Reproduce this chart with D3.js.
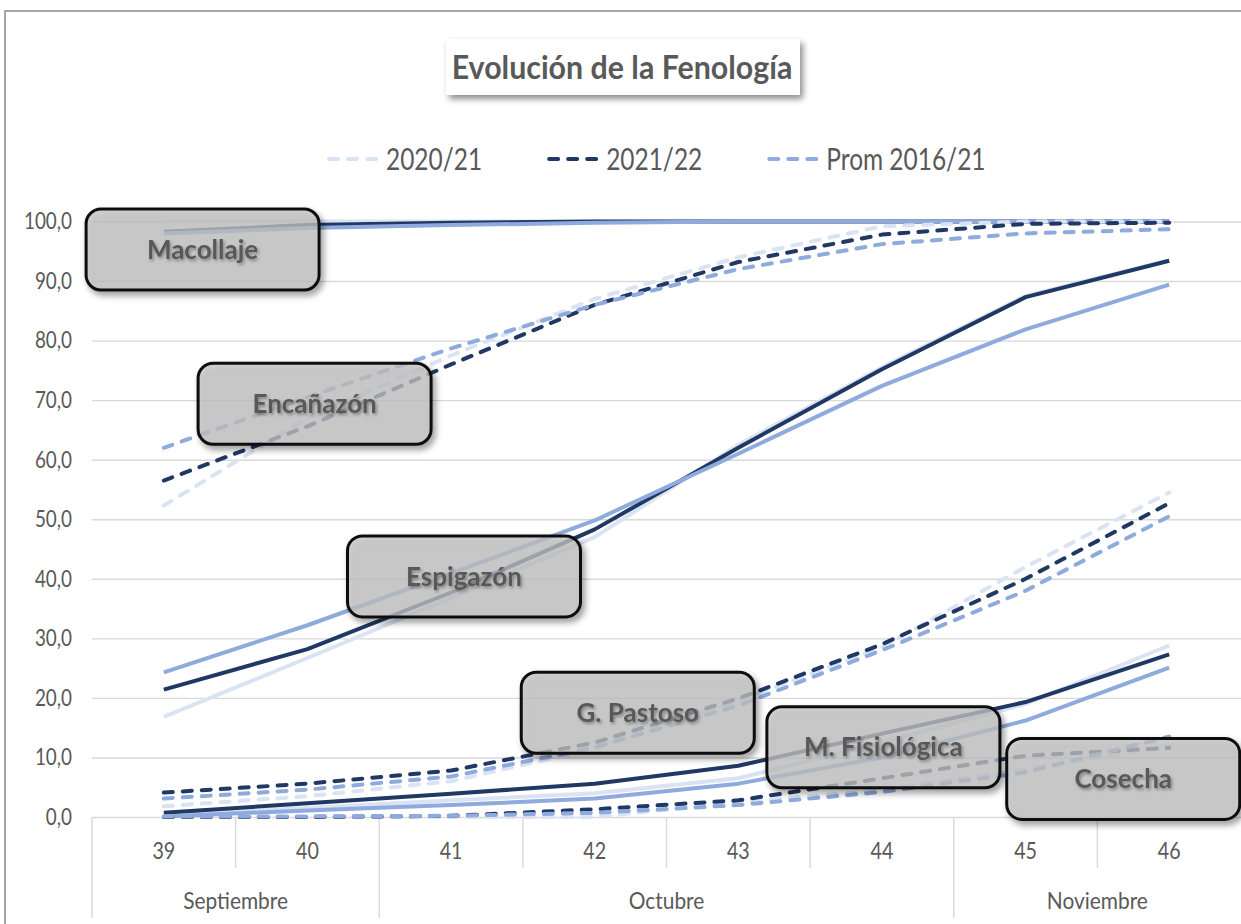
<!DOCTYPE html>
<html>
<head>
<meta charset="utf-8">
<script src="https://cdn.jsdelivr.net/npm/d3@7"></script>
<style>
  body { margin: 0; background: #fff; overflow: hidden; }
  text { font-family: Lato, "Open Sans", sans-serif; }
</style>
</head>
<body>
<svg id="chart" width="1241" height="924"></svg>
<script>
// ---- data ----
const weeks = [39, 40, 41, 42, 43, 44, 45, 46];
const monthNames = ["Septiembre", "Octubre", "Noviembre"];
const monthFirstWeek = [39, 41, 45];
const monthLastWeek = [40, 44, 46];
const yTicks = [0, 10, 20, 30, 40, 50, 60, 70, 80, 90, 100];
const seriesNames = ["2020/21", "2021/22", "Prom 2016/21"];

// Macollaje
const macollaje2021 = [100, 100, 100, 100, 100, 100, 100, 100];
const macollaje2122 = [98.3, 99.4, 99.8, 100, 100, 100, 100, 100];
const macollajeProm = [98, 98.9, 99.4, 99.8, 100, 100, 100, 100];
// Encañazón
const encanazon2021 = [52.3, 67, 77.5, 87, 94, 99.2, 100, 100];
const encanazon2122 = [56.5, 65.6, 76, 86, 93.2, 97.8, 99.6, 99.8];
const encanazonProm = [62, 70.5, 78.7, 86, 92, 96.2, 98, 98.7];
// Espigazón
const espigazon2021 = [16.8, 26.7, 36.8, 47, 62.5, 75.5, 87.5, 93.5];
const espigazon2122 = [21.4, 28.2, 37.7, 48.3, 62, 75.2, 87.3, 93.4];
const espigazonProm = [24.3, 32.2, 40.9, 49.8, 61, 72.4, 81.9, 89.4];
// G. Pastoso
const pastoso2021 = [1.8, 3.5, 6, 11.5, 19.5, 28.5, 42, 54.5];
const pastoso2122 = [4.1, 5.6, 7.8, 12.5, 19.9, 29, 40, 52.7];
const pastosoProm = [3.1, 4.6, 6.8, 11.7, 18.7, 28, 38, 50.5];
// M. Fisiológica
const fisiologica2021 = [0.3, 1.5, 2.8, 4, 6.5, 12.5, 19, 28.8];
const fisiologica2122 = [0.7, 2.3, 3.9, 5.6, 8.6, 14, 19.3, 27.3];
const fisiologicaProm = [0.1, 1.1, 2, 3.1, 5.6, 10, 16.2, 25.1];
// Cosecha
const cosecha2021 = [0, 0, 0, 0, 2.5, 4.5, 8, 12];
const cosecha2122 = [0, 0, 0.2, 1.3, 2.8, 6.5, 10.3, 11.6];
const cosechaProm = [0.1, 0.1, 0.2, 0.7, 2, 4.2, 7.5, 13.5];

const stages = [
  { name: "Macollaje", dashed: false, values: [macollaje2021, macollaje2122, macollajeProm] },
  { name: "Encañazón", dashed: true, values: [encanazon2021, encanazon2122, encanazonProm] },
  { name: "Espigazón", dashed: false, values: [espigazon2021, espigazon2122, espigazonProm] },
  { name: "G. Pastoso", dashed: true, values: [pastoso2021, pastoso2122, pastosoProm] },
  { name: "M. Fisiológica", dashed: false, values: [fisiologica2021, fisiologica2122, fisiologicaProm] },
  { name: "Cosecha", dashed: true, values: [cosecha2021, cosecha2122, cosechaProm] },
];

// ---- layout / style ----
const W = 1241, H = 924;
const plotLeft = 92, plotRight = 1241, plotTop = 221.5, plotBottom = 817;
const colors = ["#dae3f3", "#203864", "#8faadc"];
const drawOrder = [0, 1, 2];
const textColor = "#595959";
const gridColor = "#d9d9d9";
const dash = "9,10";

// where the stage label boxes sit (in week / value units)
const notes = [
  { week: 39.27, value: 95.3 },
  { week: 40.05, value: 69.4 },
  { week: 41.09, value: 40.4 },
  { week: 42.30, value: 17.5 },
  { week: 44.01, value: 11.7 },
  { week: 45.68, value: 6.4 },
];

const svg = d3.select("#chart");

// narrow the Lato glyphs to look like the condensed original
function squeeze(sel, k) {
  sel.each(function () {
    const w = this.getComputedTextLength();
    d3.select(this).attr("textLength", w * k).attr("lengthAdjust", "spacingAndGlyphs");
  });
}

const defs = svg.append("defs");
const shadow = defs.append("filter").attr("id", "shadow")
  .attr("x", "-20%").attr("y", "-20%").attr("width", "150%").attr("height", "160%");
shadow.append("feDropShadow").attr("dx", 3).attr("dy", 4).attr("stdDeviation", 3)
  .attr("flood-color", "#000").attr("flood-opacity", 0.45);
const tshadow = defs.append("filter").attr("id", "tshadow")
  .attr("x", "-10%").attr("y", "-30%").attr("width", "130%").attr("height", "170%");
tshadow.append("feDropShadow").attr("dx", 1.5).attr("dy", 2).attr("stdDeviation", 1.5)
  .attr("flood-color", "#000").attr("flood-opacity", 0.35);

// chart area border
svg.append("rect")
  .attr("x", 5).attr("y", 11).attr("width", W + 20).attr("height", H + 20)
  .attr("fill", "#fff").attr("stroke", "#a6a6a6").attr("stroke-width", 2);

// scales
const x = d3.scaleBand().domain(weeks).range([plotLeft, plotRight]).padding(0);
const bw = x.bandwidth();
const xc = (w) => x(weeks[0]) + bw / 2 + (w - weeks[0]) * bw;
const y = d3.scaleLinear().domain([0, 100]).range([plotBottom, plotTop]);

const es = d3.formatLocale({ decimal: ",", thousands: ".", grouping: [3], currency: ["", "€"] });
const fmt = es.format(".1f");

// y axis + grid
const yAxis = svg.append("g")
  .attr("transform", `translate(${plotLeft},0)`)
  .call(d3.axisLeft(y).tickValues(yTicks).tickSize(-(plotRight - plotLeft)).tickPadding(20).tickFormat(fmt));
yAxis.select(".domain").remove();
yAxis.selectAll(".tick line").attr("stroke", gridColor).attr("stroke-width", 1.4);
yAxis.selectAll(".tick text")
  .attr("fill", textColor).attr("font-size", 23).attr("font-family", "Lato");
squeeze(yAxis.selectAll(".tick text"), 0.82);

// x axis: category separators and month separators
const xAxis = svg.append("g");
const monthStart = new Set(monthFirstWeek);
weeks.forEach((w, i) => {
  if (i === 0) return;
  xAxis.append("line")
    .attr("x1", x(w)).attr("x2", x(w))
    .attr("y1", plotBottom).attr("y2", monthStart.has(w) ? 918 : 868)
    .attr("stroke", gridColor).attr("stroke-width", 1.4);
});
xAxis.append("line")
  .attr("x1", plotLeft).attr("x2", plotLeft).attr("y1", plotBottom).attr("y2", 918)
  .attr("stroke", gridColor).attr("stroke-width", 1.4);

const weekLabels = xAxis.selectAll("text.week").data(weeks).join("text")
  .attr("class", "week")
  .attr("x", (d) => x(d) + bw / 2).attr("y", 851)
  .attr("dy", "0.35em").attr("text-anchor", "middle")
  .attr("fill", textColor).attr("font-size", 24)
  .text((d) => d);
squeeze(weekLabels, 0.82);

const monthLabels = xAxis.selectAll("text.month").data(monthNames).join("text")
  .attr("class", "month")
  .attr("x", (d, i) => (x(monthFirstWeek[i]) + x(monthLastWeek[i]) + bw) / 2)
  .attr("y", 901).attr("dy", "0.35em").attr("text-anchor", "middle")
  .attr("fill", textColor).attr("font-size", 24)
  .text((d) => d);
squeeze(monthLabels, 0.87);

// lines
const line = d3.line().x((d, i) => x(weeks[i]) + bw / 2).y((d) => y(d));
const linesG = svg.append("g");
stages.forEach((st) => {
  drawOrder.forEach((s) => {
    linesG.append("path")
      .datum(st.values[s])
      .attr("d", line)
      .attr("fill", "none")
      .attr("stroke", colors[s])
      .attr("stroke-width", 4)
      .attr("stroke-dasharray", st.dashed ? dash : null)
      .attr("stroke-linecap", st.dashed ? "round" : "butt")
      .attr("stroke-linejoin", "round");
  });
});

// stage label boxes
const boxW = 233, boxH = 81;
const notesG = svg.append("g");
stages.forEach((st, i) => {
  const cx = xc(notes[i].week), cy = y(notes[i].value);
  const g = notesG.append("g");
  g.append("rect")
    .attr("x", cx - boxW / 2).attr("y", cy - boxH / 2)
    .attr("width", boxW).attr("height", boxH)
    .attr("rx", 15).attr("ry", 15)
    .attr("fill", "#c4c4c4").attr("fill-opacity", 0.72)
    .attr("stroke", "#111").attr("stroke-width", 3)
    .attr("filter", "url(#shadow)");
  g.append("text")
    .attr("x", cx).attr("y", cy).attr("dy", "0.35em")
    .attr("text-anchor", "middle")
    .attr("fill", textColor).attr("font-size", 26).attr("font-weight", 700)
    .attr("filter", "url(#tshadow)")
    .text(st.name);
});

// title
const titleG = svg.append("g");
titleG.append("rect")
  .attr("x", 446).attr("y", 39).attr("width", 354).attr("height", 56)
  .attr("fill", "#fff").attr("filter", "url(#shadow)");
const title = titleG.append("text")
  .attr("x", 622).attr("y", 79).attr("text-anchor", "middle")
  .attr("fill", textColor).attr("font-size", 33).attr("font-weight", 700)
  .text("Evolución de la Fenología");
squeeze(title, 0.92);

// legend
const legend = svg.append("g");
let lx = 327;
seriesNames.forEach((name, i) => {
  legend.append("line")
    .attr("x1", lx + 2).attr("x2", lx + 52).attr("y1", 159).attr("y2", 159)
    .attr("stroke", colors[i]).attr("stroke-width", 4)
    .attr("stroke-dasharray", dash).attr("stroke-linecap", "round");
  const t = legend.append("text")
    .attr("x", lx + 59).attr("y", 159).attr("dy", "0.35em")
    .attr("fill", textColor).attr("font-size", 30)
    .text(name);
  const natural = t.node().getComputedTextLength();
  squeeze(t, 0.815);
  lx += 59 + natural * 0.815 + 65;
});
</script>
</body>
</html>
